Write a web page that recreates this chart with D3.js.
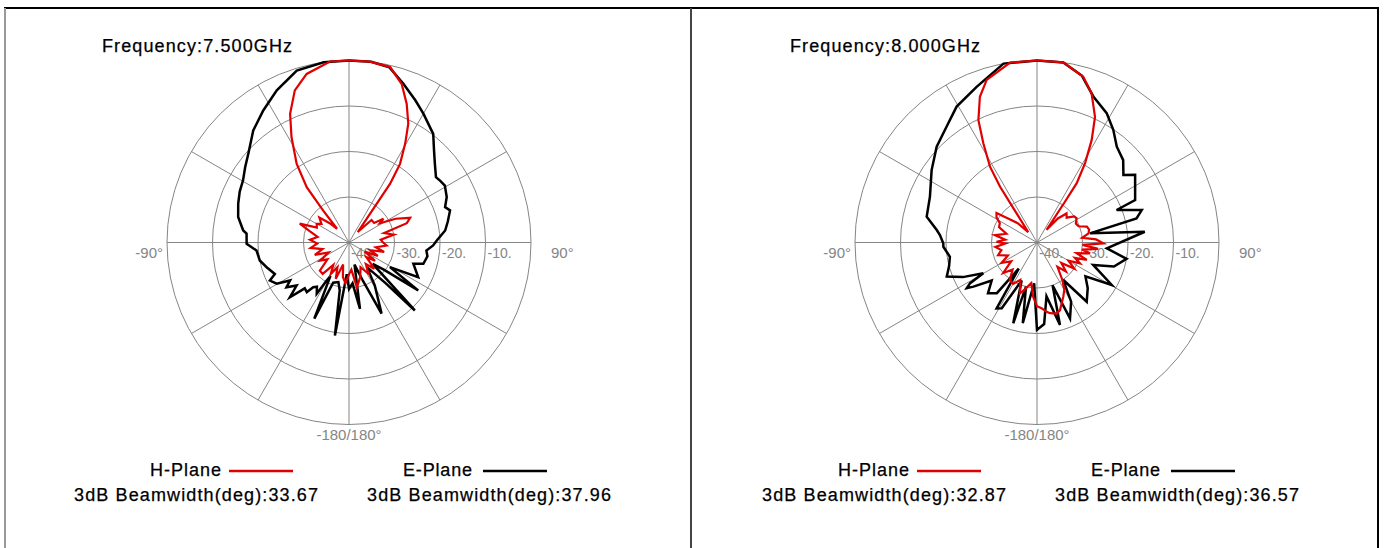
<!DOCTYPE html>
<html><head><meta charset="utf-8">
<script src="https://cdn.jsdelivr.net/npm/d3@7"></script>
<style>html,body{margin:0;padding:0;background:#fff;overflow:hidden}</style>
</head><body><svg id="c" width="1386" height="548"></svg>
<script>
// ---------- data ----------
const frequencies = ["7.500", "8.000"];
const seriesNames = ["H-Plane", "E-Plane"];
const beamwidthH = ["33.67", "32.87"];
const beamwidthE = ["37.96", "36.57"];
const ringTicks = [-40, -30, -20, -10, 0];
const ringLabels = ["-40.", "-30.", "-20.", "-10."];
const spokeAngles = [0, 30, 60, 90, 120, 150, 180, 210, 240, 270, 300, 330];
const angleLabelAngles = [-90, 90, 180];
const angleLabelTexts = ["-90°", "90°", "-180/180°"];

// [angle (deg), gain (dB)]
const hPlane75 = [[-180,-33],[-175,-31],[-170,-32.3],[-165,-35],[-160,-31.5],[-155,-34],[-150,-32],[-145,-34],[-140,-31],[-134,-31.1],[-128,-34],[-122,-32.5],[-116,-35],[-110,-32],[-104,-34],[-98,-31.5],[-92,-33],[-86,-31.4],[-80,-33],[-74,-31],[-69,-28.4],[-65,-32.2],[-60,-31.8],[-56,-32.7],[-50,-31.5],[-45,-34],[-41,-36],[-39,-31],[-37.4,-24.7],[-33.6,-19.2],[-28.6,-13.6],[-24.6,-8.9],[-19.6,-4.5],[-14.1,-1.8],[-6,0],[0,0],[6.6,0],[13.2,-0.4],[18.4,-3.3],[22.6,-7],[26.5,-10.8],[29.6,-15],[33,-19.4],[35,-24.3],[35.6,-29.5],[40,-37],[45,-33],[52,-33],[55.4,-30.8],[58,-32],[63,-28.5],[68,-25.5],[71.5,-26.6],[75,-32],[80,-30],[85,-33],[90,-32.5],[94.5,-31.7],[100,-34],[105,-32],[110,-35],[115,-33],[120,-36],[125,-33],[130,-35],[136,-32],[142,-34],[148,-31.9],[155,-34],[162,-32],[170,-30],[175,-34]];
const ePlane75 = [[-180,-29.8],[-176,-33],[-171.4,-19.3],[-169,-29.3],[-165,-31],[-158.5,-30.5],[-155.5,-21.6],[-151,-31.6],[-149.6,-30.3],[-147.8,-26.7],[-144,-28],[-141.4,-27.4],[-139.6,-25.7],[-136,-26],[-132.8,-22.3],[-129.4,-25.1],[-125.6,-23.1],[-122.8,-24.6],[-119.7,-21.7],[-115.7,-20.7],[-113,-22.3],[-106.7,-21.1],[-101.4,-20],[-95,-19.6],[-90.7,-17.5],[-85,-17.4],[-83.5,-16.6],[-77,-15],[-70.7,-14.2],[-65,-13.5],[-59.6,-13],[-54,-11.8],[-48.6,-10.5],[-40.5,-7.6],[-33,-5.4],[-25.4,-3],[-16.9,-0.5],[-8,0],[0,0],[7,0],[13,-0.5],[18.9,-3.1],[25,-5.5],[30,-7.3],[37.8,-9.8],[42.6,-12.4],[47.5,-14.4],[53.1,-16.1],[56,-15.8],[59.3,-15.5],[65,-16.3],[69.8,-17.5],[72.4,-16.7],[78,-17.8],[82.9,-18.7],[88.7,-20.7],[92,-21.5],[95.9,-22.9],[100,-22.5],[106,-23],[108.3,-25.1],[116.6,-23],[121,-29.5],[124.7,-21.5],[128,-30.3],[132,-33],[135.9,-19.2],[138,-28],[144,-33.3],[149,-29],[155.4,-22.8],[160,-31],[166,-35],[170.6,-25.2],[175,-31]];
const hPlane80 = [[-180,-26],[-176,-28],[-172,-31],[-166,-29.5],[-161.5,-28.2],[-156,-31],[-150,-29.5],[-144,-29.8],[-138,-32],[-132,-30],[-126,-33],[-120,-31],[-114,-33],[-108,-31],[-102,-32],[-96,-30.8],[-92,-33],[-89,-31.1],[-85,-33],[-80,-30.6],[-74,-33],[-68,-31],[-62.6,-30.8],[-58,-29.5],[-54,-29],[-50,-32],[-45,-34],[-40,-37],[-35,-32],[-33.5,-25.3],[-31.8,-20.4],[-28.4,-15.2],[-25.6,-10.2],[-21.4,-5.6],[-17.2,-2.6],[-8.5,0],[0,0],[8.3,0],[15.6,-2.2],[20.1,-5.1],[24.8,-9.6],[28.1,-14.5],[31.2,-19.6],[33.8,-24.3],[34.5,-29.6],[37,-36.5],[41,-33],[45.5,-30.9],[50,-31.5],[55,-30],[58.6,-29.8],[64,-30.5],[68.6,-30.2],[72.4,-28.5],[76,-28.2],[80,-28.5],[84,-30],[87,-27],[90.7,-25.4],[93,-30],[96,-26.5],[99,-30],[101.5,-28.1],[105,-31],[109.4,-28.4],[112,-31],[116,-29.5],[120,-32],[125,-30],[130,-33],[135,-31],[140,-33],[146,-30],[150,-28],[154,-26.8],[161.2,-24.3],[164.5,-23.8],[169.6,-24.2],[172,-24.6],[176,-25.5]];
const ePlane80 = [[-180,-20.8],[-176,-31],[-170,-22],[-166,-30],[-163.6,-21.5],[-158,-31],[-151.8,-23.6],[-148.5,-23],[-145,-33],[-141.6,-25.8],[-136,-24.5],[-130,-27],[-124.8,-23],[-123,-21.6],[-121.3,-22.8],[-119.8,-26.4],[-115,-22],[-110.7,-18.8],[-105,-20],[-99.3,-20.6],[-92.6,-19.4],[-90.5,-19.4],[-85.6,-18.6],[-82.9,-17.8],[-76.8,-15.1],[-66.8,-14.4],[-55.5,-11.9],[-46.3,-9.5],[-38,-7.7],[-30.6,-5.3],[-21.2,-3.3],[-10.6,0],[0,0],[8.3,0],[15,-2],[21.1,-5.6],[28.3,-7.7],[34.1,-10.1],[39.8,-12.6],[46.3,-13.8],[52,-15.9],[55.4,-13.8],[66.6,-16.5],[67.8,-21.1],[72.8,-15.9],[76.4,-17.5],[80.2,-28.2],[84.3,-16.2],[94.8,-24.6],[100.3,-20],[107.3,-22.3],[111.8,-26.7],[119.6,-21.1],[125,-27],[132,-25],[140,-23],[145,-30],[150,-25],[156.5,-21.8],[160,-30],[164.4,-21.2],[170,-28],[175,-22]];

const hSeries = [hPlane75, hPlane80];
const eSeries = [ePlane75, ePlane80];

// ---------- drawing ----------
const svg = d3.select("#c");
const FONT = "'Liberation Sans', Arial, sans-serif";
const R = 182, CY = 242.5;
const centersX = [349, 1037];
const panelOffset = [0, 688];
const rScale = d3.scaleLinear().domain([-40, 0]).range([0, R]).clamp(true);
const rad = d => d * Math.PI / 180;
const GRID = "#858585";

// frame
svg.append("line").attr("x1", 4).attr("x2", 1379).attr("y1", 8).attr("y2", 8).attr("stroke", "#000").attr("stroke-width", 2);
svg.append("line").attr("x1", 5).attr("x2", 5).attr("y1", 8).attr("y2", 548).attr("stroke", "#999").attr("stroke-width", 2);
svg.append("line").attr("x1", 1378).attr("x2", 1378).attr("y1", 8).attr("y2", 548).attr("stroke", "#000").attr("stroke-width", 2);
svg.append("line").attr("x1", 691).attr("x2", 691).attr("y1", 8).attr("y2", 548).attr("stroke", "#444").attr("stroke-width", 2);

function label(x, y, txt, len) {
  return svg.append("text").attr("x", x).attr("y", y).attr("font-family", FONT).attr("font-size", 18)
    .attr("fill", "#000").attr("stroke", "#000").attr("stroke-width", 0.25)
    .attr("textLength", len).attr("lengthAdjust", "spacing").text(txt);
}

[0, 1].forEach(i => {
  const g = svg.append("g").attr("transform", `translate(${centersX[i]},${CY})`);
  g.selectAll("circle.ring").data(ringTicks.filter(t => t > -40)).join("circle")
    .attr("r", d => rScale(d)).attr("fill", "none").attr("stroke", GRID).attr("stroke-width", 1);
  g.selectAll("line.spoke").data(spokeAngles).join("line")
    .attr("x1", 0).attr("y1", 0)
    .attr("x2", d => R * Math.sin(rad(d))).attr("y2", d => -R * Math.cos(rad(d)))
    .attr("stroke", GRID).attr("stroke-width", 1);
  g.selectAll("text.rl").data(ringLabels).join("text")
    .attr("x", (d, k) => rScale(ringTicks[k]) + 2).attr("y", 15)
    .attr("font-family", FONT).attr("font-size", 14).attr("fill", GRID).text(d => d);
  angleLabelAngles.forEach((a, k) => {
    const t = g.append("text").attr("font-family", FONT).attr("font-size", 15).attr("fill", GRID).text(angleLabelTexts[k]);
    if (a === -90) t.attr("x", -R - 4).attr("y", 15).attr("text-anchor", "end");
    else if (a === 90) t.attr("x", R + 20).attr("y", 15);
    else t.attr("x", 0).attr("y", R + 15).attr("text-anchor", "middle");
  });
  const line = d3.lineRadial().angle(d => rad(d[0])).radius(d => rScale(d[1])).curve(d3.curveLinearClosed);
  g.append("path").attr("d", line(eSeries[i])).attr("fill", "none").attr("stroke", "#000").attr("stroke-width", 2.5).attr("stroke-linejoin", "miter");
  g.append("path").attr("d", line(hSeries[i])).attr("fill", "none").attr("stroke", "#e00000").attr("stroke-width", 2.2).attr("stroke-linejoin", "miter");

  const ox = panelOffset[i];
  label(102 + ox, 52, "Frequency:" + frequencies[i] + "GHz", 190);
  label(150 + ox, 476, seriesNames[0], 71);
  svg.append("line").attr("x1", 229 + ox).attr("x2", 293 + ox).attr("y1", 471).attr("y2", 471).attr("stroke", "#e00000").attr("stroke-width", 2.5);
  label(403 + ox, 476, seriesNames[1], 69);
  svg.append("line").attr("x1", 483 + ox).attr("x2", 547 + ox).attr("y1", 471).attr("y2", 471).attr("stroke", "#000").attr("stroke-width", 2.5);
  label(74 + ox, 501, "3dB Beamwidth(deg):" + beamwidthH[i], 244);
  label(367 + ox, 501, "3dB Beamwidth(deg):" + beamwidthE[i], 244);
});
</script>
</body></html>
